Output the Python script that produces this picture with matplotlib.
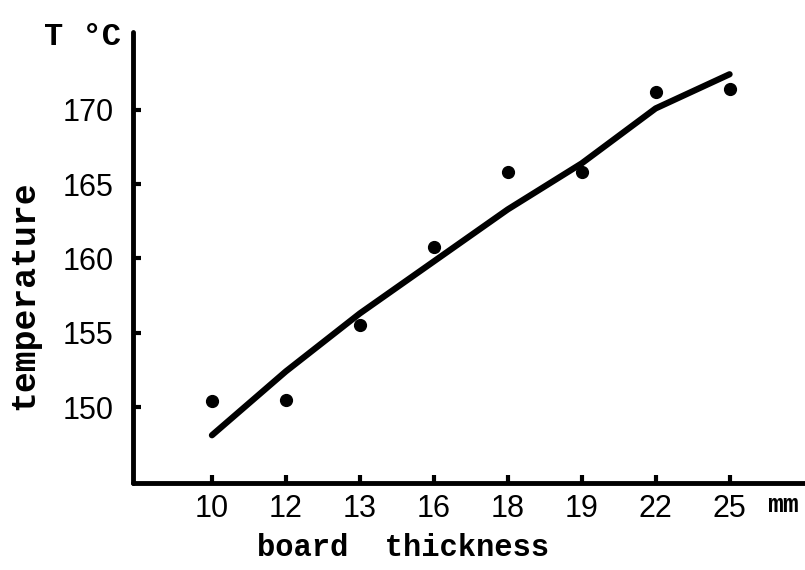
import matplotlib.pyplot as plt
import numpy as np

# board thickness (mm) categories, evenly spaced on the axis
thickness = ['10', '12', '13', '16', '18', '19', '22', '25']
# measured temperatures (dots)
temp_points = [150.4, 150.5, 155.5, 160.8, 165.8, 165.8, 171.2, 171.4]
# hand drawn trend line read at each category
temp_curve = [148.1, 152.4, 156.3, 159.8, 163.3, 166.4, 170.1, 172.4]
yticks = [150, 155, 160, 165, 170]

fig = plt.figure(figsize=(8.05, 5.7), dpi=100)
ax = fig.add_axes([0.165, 0.153, 0.835, 0.791])

pos = np.arange(len(thickness))
ax.plot(pos, temp_curve, '-', color='black', lw=4.5, solid_capstyle='round',
        solid_joinstyle='round')
ax.plot(pos, temp_points, 'o', color='black', ms=8.5)

ax.set_xlim(-1.07, 8.02)
ax.set_ylim(144.9, 175.25)

for s in ['top', 'right']:
    ax.spines[s].set_visible(False)
for s in ['left', 'bottom']:
    ax.spines[s].set_linewidth(3.5)
    ax.spines[s].set_capstyle('round')

ax.set_xticks(pos)
ax.set_xticklabels(thickness)
ax.set_yticks(yticks)
ax.tick_params(direction='in', length=6, width=3, pad=8,
               labelsize=22, labelfontfamily='Liberation Sans')
ax.tick_params(axis='y', pad=14)

mono = dict(family='Liberation Mono', weight='bold', color='black')
fig.text(0.5, 0.038, 'board  thickness', ha='center', va='center', fontsize=22, **mono)
fig.text(0.03, 0.482, 'temperature', ha='center', va='center', rotation=90, fontsize=25, **mono)
fig.text(0.055, 0.935, 'T °C', ha='left', va='center', fontsize=23, **mono)
fig.text(0.972, 0.114, 'mm', ha='center', va='center', fontsize=19, **mono)

fig.savefig('out.png', dpi=100)
